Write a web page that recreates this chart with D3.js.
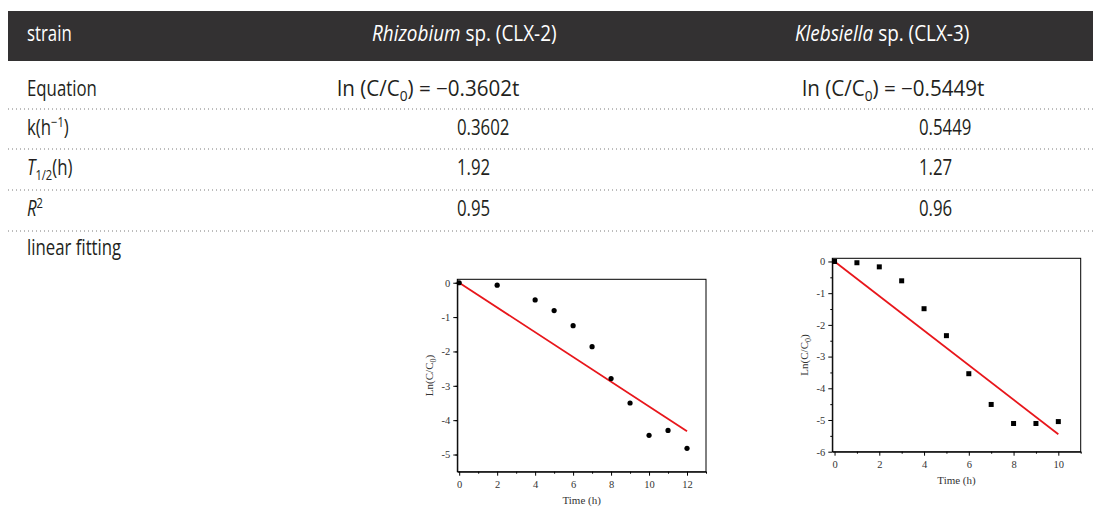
<!DOCTYPE html>
<html>
<head>
<meta charset="utf-8">
<script src="https://cdn.jsdelivr.net/npm/d3@7"></script>
<style>
  html, body { margin: 0; padding: 0; background: #fff; }
  .tbl { font-family: "Open Sans", "Noto Sans", sans-serif; font-size: 21px; fill: #231f20; }
  .plot { font-family: "Liberation Serif", "DejaVu Serif", serif; }
  .plot .tick text { font-size: 10.5px; fill: #333; font-family: "Liberation Serif", serif; }
  .plot .domain { stroke: #000; }
  .plot .tick line { stroke: #000; }
</style>
</head>
<body>
<svg width="1093" height="508"></svg>
<script>
// table contents
const headers = ['strain', 'Rhizobium', 'Klebsiella'];
const headerSuffix = ['', ' sp. (CLX-2)', ' sp. (CLX-3)'];
const slopes = [-0.3602, -0.5449];
const kValues = ['0.3602', '0.5449'];
const halfLives = ['1.92', '1.27'];
const rSquared = ['0.95', '0.96'];

// chart data
const timeA = [0, 2, 4, 5, 6, 7, 8, 9, 10, 11, 12];
const lnA = [0, -0.07, -0.5, -0.81, -1.25, -1.86, -2.79, -3.5, -4.44, -4.3, -4.82];
const timeB = [0, 1, 2, 3, 4, 5, 6, 7, 8, 9, 10];
const lnB = [0, -0.04, -0.17, -0.61, -1.49, -2.34, -3.54, -4.51, -5.11, -5.11, -5.05];
const xTicksA = [0, 2, 4, 6, 8, 10, 12];
const xTicksB = [0, 2, 4, 6, 8, 10];
const yTicksA = [0, -1, -2, -3, -4, -5];
const yTicksB = [0, -1, -2, -3, -4, -5, -6];

const svg = d3.select('svg');
const headX = [27, 372, 795];
const eqX = [337, 802];
const valX = [457, 919];
const labelX = 27;
const rowY = [89, 128, 168, 209, 248];
const ruleY = [109, 149, 190, 231];

// header bar
svg.append('rect')
  .attr('x', 8).attr('y', 11)
  .attr('width', 1085).attr('height', 50)
  .attr('fill', '#333132');

// dotted rules
svg.selectAll('.rule')
  .data(ruleY)
  .enter().append('line')
  .attr('class', 'rule')
  .attr('x1', 8).attr('x2', 1093)
  .attr('y1', d => d).attr('y2', d => d)
  .attr('stroke', '#7a7a7a')
  .attr('stroke-width', 1)
  .attr('stroke-dasharray', '1,3');

const body = svg.append('g').attr('class', 'tbl');

// the table face is a condensed sans, so squeeze each cell horizontally
function cell(x, y, sx) {
  return body.append('text')
    .attr('transform', `translate(${x}, ${y}) scale(${sx}, 1)`)
    .attr('dy', '0.35em');
}

headers.forEach((h, i) => {
  const t = cell(headX[i], 34, i === 0 ? 0.8 : 0.9).attr('fill', '#fff');
  t.append('tspan').attr('font-style', i === 0 ? 'normal' : 'italic').text(h);
  if (headerSuffix[i]) t.append('tspan').text(headerSuffix[i]);
});

// row labels
cell(labelX, rowY[0], 0.8).text('Equation');

let t = cell(labelX, rowY[1], 0.8);
t.append('tspan').text('k(h');
t.append('tspan').attr('font-size', 14).attr('dy', -8).text('\u22121');
t.append('tspan').attr('dy', 8).text(')');

t = cell(labelX, rowY[2], 0.8);
t.append('tspan').attr('font-style', 'italic').text('T');
t.append('tspan').attr('font-size', 14).attr('dy', 5).text('1/2');
t.append('tspan').attr('dy', -5).text('(h)');

t = cell(labelX, rowY[3], 0.8);
t.append('tspan').attr('font-style', 'italic').text('R');
t.append('tspan').attr('font-size', 14).attr('dy', -8).text('2');

cell(labelX, rowY[4], 0.8).text('linear fitting');

// value cells
slopes.forEach((s, i) => {
  const eq = cell(eqX[i], rowY[0], 0.98);
  eq.append('tspan').text('ln (C/C');
  eq.append('tspan').attr('font-size', 14).attr('dy', 5).text('0');
  eq.append('tspan').attr('dy', -5).text(') = \u2212' + Math.abs(s).toFixed(4) + 't');
  cell(valX[i], rowY[1], 0.8).text(kValues[i]);
  cell(valX[i], rowY[2], 0.8).text(halfLives[i]);
  cell(valX[i], rowY[3], 0.8).text(rSquared[i]);
});

// small scatter + fit plots
function drawPlot(opts) {
  const x = d3.scaleLinear().domain(opts.xDomain).range(opts.xRange);
  const y = d3.scaleLinear().domain(opts.yDomain).range(opts.yRange);
  const g = svg.append('g').attr('class', 'plot');

  // frame
  g.append('rect')
    .attr('x', opts.xRange[0]).attr('y', opts.yRange[1])
    .attr('width', opts.xRange[1] - opts.xRange[0])
    .attr('height', opts.yRange[0] - opts.yRange[1])
    .attr('fill', 'none').attr('stroke', '#000').attr('stroke-width', 1);

  const fmt = d => String(d);
  const xMinor = d3.range(Math.ceil(opts.xDomain[0]), Math.floor(opts.xDomain[1]) + 1).filter(v => v % 2 !== 0);
  const yMinor = d3.range(opts.yDomain[0] + 0.5, opts.yDomain[1], 1);

  g.append('g')
    .attr('transform', `translate(0, ${opts.yRange[0]})`)
    .call(d3.axisBottom(x).tickValues(xMinor).tickSize(2).tickFormat(''))
    .call(a => a.select('.domain').remove());
  g.append('g')
    .attr('transform', `translate(0, ${opts.yRange[0]})`)
    .call(d3.axisBottom(x).tickValues(opts.xTicks).tickSize(4).tickSizeOuter(0).tickPadding(5).tickFormat(fmt));

  g.append('g')
    .attr('transform', `translate(${opts.xRange[0]}, 0)`)
    .call(d3.axisLeft(y).tickValues(yMinor).tickSize(2).tickFormat(''))
    .call(a => a.select('.domain').remove());
  g.append('g')
    .attr('transform', `translate(${opts.xRange[0]}, 0)`)
    .call(d3.axisLeft(y).tickValues(opts.yTicks).tickSize(4).tickSizeOuter(0).tickPadding(3).tickFormat(fmt));

  // fit line
  const tMax = d3.max(opts.time);
  g.append('line')
    .attr('x1', x(0)).attr('y1', y(0))
    .attr('x2', x(tMax)).attr('y2', y(opts.slope * tMax))
    .attr('stroke', '#e8161b').attr('stroke-width', 1.8);

  // points
  const pts = opts.time.map((d, i) => ({ t: d, v: opts.values[i] }));
  if (opts.square) {
    g.selectAll('.pt').data(pts).enter().append('rect')
      .attr('x', d => x(d.t) - 2.5).attr('y', d => y(d.v) - 2.5)
      .attr('width', 5).attr('height', 5).attr('fill', '#000');
  } else {
    g.selectAll('.pt').data(pts).enter().append('circle')
      .attr('cx', d => x(d.t)).attr('cy', d => y(d.v))
      .attr('r', 2.6).attr('fill', '#000');
  }

  // axis titles
  g.append('text')
    .attr('x', (opts.xRange[0] + opts.xRange[1]) / 2)
    .attr('y', opts.yRange[0] + 32)
    .attr('text-anchor', 'middle')
    .attr('font-size', 11).attr('fill', '#333')
    .text('Time (h)');

  const yt = g.append('text')
    .attr('transform', `translate(${opts.xRange[0] - 24}, ${(opts.yRange[0] + opts.yRange[1]) / 2}) rotate(-90)`)
    .attr('text-anchor', 'middle')
    .attr('font-size', 11).attr('fill', '#333');
  yt.append('tspan').text('Ln(C/C');
  yt.append('tspan').attr('font-size', 8).attr('dy', 3).text('0');
  yt.append('tspan').attr('dy', -3).text(')');
}

drawPlot({
  time: timeA, values: lnA, slope: slopes[0],
  xDomain: [-0.1, 13], yDomain: [-5.5, 0.1],
  xRange: [457.3, 706], yRange: [471.7, 279.3],
  xTicks: xTicksA, yTicks: yTicksA, square: false
});

drawPlot({
  time: timeB, values: lnB, slope: slopes[1],
  xDomain: [-0.1, 11], yDomain: [-6, 0.1],
  xRange: [832.3, 1080.7], yRange: [451.7, 258.3],
  xTicks: xTicksB, yTicks: yTicksB, square: true
});
</script>
</body>
</html>
